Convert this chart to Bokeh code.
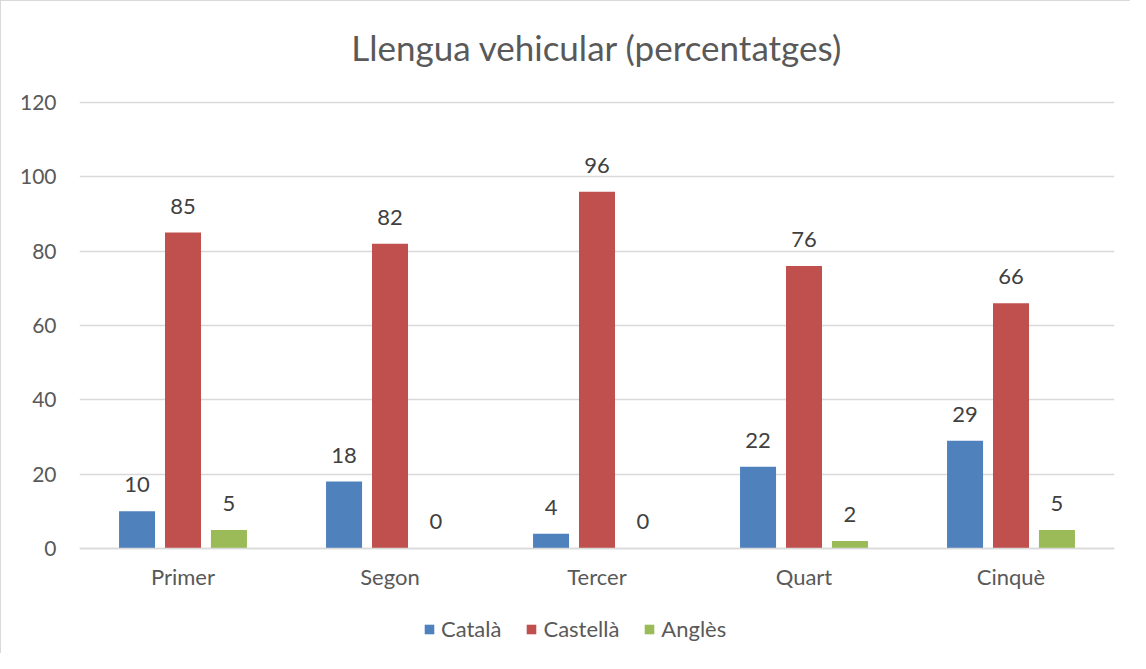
from bokeh.plotting import figure
from bokeh.models import ColumnDataSource, FactorRange, Legend, LegendItem, LabelSet, Label, Range1d
from bokeh.core.properties import value
from bokeh.transform import dodge
from bokeh.embed import file_html
from bokeh.resources import INLINE

title = "Llengua vehicular (percentatges)"
cursos = ["Primer", "Segon", "Tercer", "Quart", "Cinquè"]
catala = [10, 18, 4, 22, 29]
castella = [85, 82, 96, 76, 66]
angles = [5, 0, 0, 2, 5]
y_ticks = [0, 20, 40, 60, 80, 100, 120]

FONT = "Lato"
GREY = "#595959"

src = ColumnDataSource(dict(cursos=cursos, catala=catala, castella=castella, angles=angles,
                            catala_t=[str(v) for v in catala],
                            castella_t=[str(v) for v in castella],
                            angles_t=[str(v) for v in angles]))

p = figure(x_range=FactorRange(*cursos), y_range=Range1d(-28.52, 147.17),
           width=1130, height=653, output_backend="svg", toolbar_location=None)
p.min_border_left = 78
p.min_border_right = 17
p.min_border_top = 0
p.min_border_bottom = 0
p.styles = {"border-left": "1px solid #d9d9d9", "border-top": "1px solid #d9d9d9"}

p.add_layout(Label(x=2.5, y=134.8, text=title, text_align="center", text_baseline="middle",
                   text_font=FONT, text_font_size="35px", text_color=GREY))

colors = ["#4f81bd", "#c0504d", "#9bbb59"]
names = ["Català", "Castellà", "Anglès"]
fields = ["catala", "castella", "angles"]
offsets = [-0.222, 0.0, 0.222]
items = []
for f, c, n, o in zip(fields, colors, names, offsets):
    r = p.vbar(x=dodge("cursos", o, range=p.x_range), top=f, width=0.174, source=src,
               fill_color=c, line_color=None)
    items.append(LegendItem(label=n, renderers=[r]))
    lbl = LabelSet(x=dodge("cursos", o, range=p.x_range), y=f, text=f + "_t", source=src,
                   text_align="center", text_baseline="bottom", y_offset=19,
                   text_font=value(FONT), text_font_size="22px", text_color="#404040")
    p.add_layout(lbl)

p.yaxis.ticker = y_ticks
p.xgrid.grid_line_color = None
p.ygrid.grid_line_color = "#d9d9d9"
p.ygrid.grid_line_width = 1.5
p.outline_line_color = None
for ax in (p.xaxis[0], p.yaxis[0]):
    ax.major_label_text_font = FONT
    ax.major_label_text_color = GREY
    ax.major_tick_line_color = None
    ax.minor_tick_line_color = None
p.yaxis.major_label_text_font_size = "21px"
p.xaxis.major_label_text_font_size = "22px"
p.yaxis.axis_line_color = None
p.yaxis.major_label_standoff = 17
p.xaxis.fixed_location = 0
p.xaxis.axis_line_color = "#d9d9d9"
p.xaxis.axis_line_width = 1.5
p.xaxis.major_label_standoff = 9

legend = Legend(items=items, orientation="horizontal", location=(344, 12),
                label_text_font=FONT, label_text_font_size="22px", label_text_color=GREY,
                glyph_width=12, glyph_height=12, spacing=24, label_standoff=6,
                border_line_color=None, background_fill_alpha=0, padding=0, margin=0)
p.add_layout(legend)

open("out.html", "w").write(file_html(p, INLINE))
